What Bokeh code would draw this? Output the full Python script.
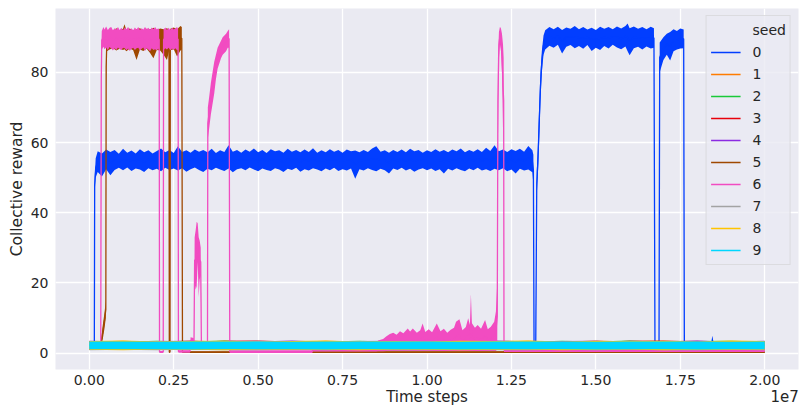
from bokeh.plotting import figure
from bokeh.models import (Range1d, FixedTicker, Legend, LegendItem, LinearAxis,
                          ColumnDataSource, CustomJSTickFormatter)
from bokeh.core.properties import value
from bokeh.embed import file_html
from bokeh.resources import INLINE

# ---------------- data (time in millions of steps, reward) ----------------
seed_names = ["0", "1", "2", "3", "4", "5", "6", "7", "8", "9"]
seed_colors = ["#023eff", "#ff7c00", "#1ac938", "#e8000b", "#8b2be2",
               "#9f4800", "#f14cc1", "#a3a3a3", "#ffc400", "#00d7ff"]

# seed 0: (t [M steps], low edge, high edge) of the noisy trace
seed0 = [
    (0.0, 1.1, 3.2), (0.15, 1.1, 3.2), (0.16, 46.0, 50.0), (0.19, 50.0, 55.5),
    (0.25, 51.6, 57.5), (0.375, 50.3, 56.9), (0.5, 52.4, 58.0), (0.625, 50.7, 57.3),
    (0.75, 52.2, 57.9), (0.875, 52.8, 56.8), (1.0, 52.1, 58.2), (1.125, 52.9, 57.1),
    (1.25, 51.9, 57.7), (1.375, 52.6, 56.9), (1.5, 52.3, 58.1), (1.625, 51.6, 57.2),
    (1.75, 52.7, 57.8), (1.875, 52.1, 56.9), (2.0, 52.5, 57.6), (2.125, 51.8, 58.3),
    (2.25, 52.8, 57.2), (2.375, 52.2, 57.9), (2.5, 52.6, 57.0), (2.625, 52.0, 58.9),
    (2.75, 52.7, 57.3), (2.875, 51.7, 57.8), (3.0, 52.4, 57.1), (3.125, 52.9, 58.0),
    (3.25, 52.2, 57.4), (3.375, 51.6, 57.9), (3.5, 52.5, 57.2), (3.625, 52.1, 58.2),
    (3.75, 52.8, 57.0), (3.875, 52.3, 57.8), (4.0, 51.9, 57.3), (4.125, 52.6, 59.2),
    (4.25, 51.5, 57.4), (4.375, 52.4, 57.9), (4.5, 52.7, 57.1), (4.625, 52.1, 58.0),
    (4.75, 52.9, 57.4), (4.875, 52.3, 58.3), (5.0, 51.8, 57.2), (5.125, 52.6, 57.9),
    (5.25, 52.2, 57.0), (5.375, 51.9, 58.1), (5.5, 52.7, 57.5), (5.625, 52.3, 57.8),
    (5.75, 51.6, 57.1), (5.875, 52.5, 58.2), (6.0, 52.2, 57.4), (6.125, 52.8, 57.9),
    (6.25, 51.7, 57.2), (6.375, 52.4, 58.0), (6.5, 52.0, 57.3), (6.625, 52.7, 58.4),
    (6.75, 52.3, 57.1), (6.875, 51.8, 57.8), (7.0, 52.6, 57.2), (7.125, 52.1, 58.1),
    (7.25, 52.8, 57.4), (7.375, 51.9, 57.9), (7.5, 52.4, 57.1), (7.625, 52.0, 58.0),
    (7.75, 52.6, 57.5), (7.875, 49.7, 57.7), (8.0, 52.4, 57.2), (8.125, 52.0, 57.9),
    (8.25, 52.7, 57.3), (8.375, 52.2, 58.3), (8.5, 51.8, 58.9), (8.625, 52.5, 57.4),
    (8.75, 52.1, 57.8), (8.875, 51.2, 57.1), (9.0, 52.6, 57.9), (9.125, 52.2, 57.3),
    (9.25, 52.8, 58.0), (9.375, 52.0, 57.2), (9.5, 52.5, 58.2), (9.625, 51.7, 57.5),
    (9.75, 52.3, 57.9), (9.875, 52.7, 57.1), (10.0, 52.1, 57.8), (10.125, 52.6, 57.3),
    (10.25, 51.9, 58.1), (10.375, 52.4, 57.4), (10.5, 51.2, 57.9), (10.625, 52.5, 57.2),
    (10.75, 52.0, 58.0), (10.875, 52.7, 57.5), (11.0, 52.2, 58.3), (11.125, 51.8, 57.2),
    (11.25, 52.6, 57.9), (11.375, 52.1, 57.4), (11.5, 52.8, 58.1), (11.625, 52.0, 57.3),
    (11.75, 52.4, 58.5), (11.875, 51.9, 57.6), (12.0, 52.5, 59.2), (12.125, 52.1, 57.5),
    (12.25, 52.7, 58.0), (12.375, 51.8, 57.3), (12.5, 52.3, 58.1), (12.625, 51.2, 57.6),
    (12.75, 52.5, 58.2), (12.875, 52.0, 57.4), (13.0, 52.3, 59.0), (13.12, 51.5, 57.8),
    (13.15, 48.0, 56.5), (13.17, 1.2, 3.2), (13.22, 1.2, 3.2), (13.25, 45.0, 52.0),
    (13.28, 50.0, 58.0), (13.32, 60.0, 70.0), (13.36, 72.0, 80.0), (13.4, 80.0, 86.0),
    (13.45, 85.0, 90.5), (13.5, 86.5, 92.0), (13.625, 87.6, 92.9), (13.75, 87.0, 92.3),
    (13.875, 87.9, 93.0), (14.0, 85.4, 92.1), (14.125, 87.3, 92.8), (14.25, 87.8, 92.4),
    (14.375, 86.9, 93.2), (14.5, 87.5, 92.3), (14.625, 86.7, 92.9), (14.75, 87.8, 92.2),
    (14.875, 86.1, 92.7), (15.0, 87.0, 92.1), (15.125, 86.4, 93.0), (15.25, 87.5, 92.4),
    (15.375, 86.8, 92.9), (15.5, 87.9, 92.3), (15.625, 87.1, 93.1), (15.75, 86.6, 92.5),
    (15.875, 87.4, 93.2), (15.94, 86.0, 93.9), (16.0, 84.9, 92.6), (16.125, 86.9, 93.1),
    (16.25, 87.3, 92.4), (16.375, 86.5, 92.9), (16.5, 87.4, 92.3), (16.625, 86.8, 93.0),
    (16.72, 87.0, 92.6), (16.75, 1.1, 3.2), (16.87, 1.1, 3.2), (16.89, 80.0, 88.5),
    (17.0, 83.5, 90.0), (17.1, 85.0, 91.0), (17.2, 83.4, 91.5), (17.3, 86.0, 92.3),
    (17.4, 86.5, 91.8), (17.5, 86.8, 92.5), (17.6, 86.9, 92.2), (17.62, 1.1, 3.2),
    (18.42, 1.1, 3.3), (18.45, 1.2, 4.9), (18.48, 1.1, 3.3), (20.0, 1.1, 3.3),
]

seed5 = [
    (0.0, 1.1, 3.2), (0.34, 1.2, 3.3), (0.36, 2.5, 4.5), (0.40, 4.0, 8.0),
    (0.45, 7.0, 11.5), (0.49, 10.0, 14.8), (0.50, 75.0, 88.0), (0.52, 86.0, 91.5),
    (0.6, 86.5, 92.3), (0.7, 86.9, 91.8), (0.8, 86.2, 92.6), (0.9, 86.7, 92.0),
    (1.0, 86.4, 92.4), (1.04, 86.6, 93.7), (1.1, 86.0, 92.1), (1.2, 86.8, 92.5),
    (1.3, 86.3, 91.9), (1.4, 83.5, 92.3), (1.5, 86.5, 92.6), (1.6, 86.1, 92.0),
    (1.7, 86.7, 92.4), (1.8, 85.5, 92.2), (1.9, 84.0, 92.7), (2.0, 86.4, 92.1),
    (2.1, 86.2, 92.5), (2.2, 85.0, 92.3), (2.3, 83.5, 92.6), (2.36, 86.0, 92.2),
    (2.37, 0.0, 0.5), (2.39, 0.0, 0.5), (2.40, 86.3, 92.4), (2.5, 86.6, 92.8),
    (2.6, 84.5, 92.3), (2.7, 86.2, 93.2), (2.74, 86.5, 92.9), (2.76, 0.0, 0.5),
    (20.0, 0.0, 0.5),
]

seed6 = [
    (0.0, 1.1, 3.2), (0.34, 1.2, 3.3), (0.355, 70.0, 86.0), (0.37, 86.5, 91.8),
    (0.42, 87.3, 92.9), (0.45, 86.6, 92.2), (0.5, 87.1, 93.1), (0.55, 86.3, 92.1),
    (0.6, 87.2, 92.7), (0.65, 86.8, 92.9), (0.7, 86.2, 92.0), (0.75, 86.9, 92.6),
    (0.8, 86.4, 92.2), (0.85, 87.1, 92.9), (0.9, 86.6, 92.1), (0.95, 86.4, 92.7),
    (1.0, 87.0, 92.0), (1.05, 86.9, 92.8), (1.1, 86.3, 92.3), (1.15, 86.8, 92.9),
    (1.2, 86.1, 92.1), (1.25, 86.7, 92.6), (1.3, 87.0, 92.0), (1.35, 86.4, 92.8),
    (1.4, 86.9, 92.2), (1.45, 87.0, 92.9), (1.5, 86.2, 92.1), (1.55, 86.7, 92.6),
    (1.6, 87.1, 92.2), (1.65, 86.1, 92.9), (1.7, 86.9, 92.3), (1.75, 86.5, 92.7),
    (1.8, 86.0, 92.1), (1.85, 86.9, 92.8), (1.9, 86.4, 92.3), (1.95, 86.6, 92.9),
    (2.0, 86.2, 92.2), (2.04, 86.8, 92.6), (2.07, 86.4, 92.2), (2.08, 0.0, 0.6),
    (2.19, 0.0, 0.6), (2.20, 86.4, 92.2), (2.25, 86.9, 92.8), (2.3, 86.5, 92.1),
    (2.35, 87.0, 92.7), (2.4, 86.3, 92.0), (2.45, 86.8, 92.8), (2.5, 86.4, 92.2),
    (2.55, 86.9, 92.6), (2.6, 86.3, 92.9), (2.63, 86.5, 92.3), (2.64, 0.1, 0.8),
    (2.98, 0.1, 0.8), (3.0, 2.6, 4.5), (3.09, 2.6, 4.3), (3.10, 1.2, 3.0),
    (3.12, 20.0, 33.0), (3.15, 18.0, 35.0), (3.18, 19.0, 37.4), (3.21, 26.0, 37.0),
    (3.24, 16.0, 33.0), (3.27, 21.0, 32.0), (3.30, 22.0, 30.0), (3.32, 1.2, 2.8),
    (3.50, 1.2, 2.8), (3.51, 61.0, 70.0), (3.55, 64.0, 73.0), (3.60, 68.0, 77.0),
    (3.65, 71.0, 80.0), (3.70, 74.0, 83.0), (3.75, 78.0, 85.0), (3.80, 81.0, 87.0),
    (3.85, 82.5, 88.0), (3.90, 84.0, 89.0), (3.95, 85.0, 90.0), (4.00, 85.5, 90.5),
    (4.05, 86.0, 91.0), (4.10, 87.0, 91.8), (4.14, 87.0, 92.3), (4.16, 0.0, 0.8),
    (6.6, 0.0, 0.8), (6.62, 0.45, 1.3), (8.5, 0.45, 1.3), (8.55, 0.5, 3.6),
    (8.7, 0.5, 4.0), (8.8, 0.6, 4.8), (8.9, 0.6, 5.4), (9.0, 0.6, 5.8),
    (9.1, 0.6, 5.2), (9.2, 0.6, 6.2), (9.3, 0.6, 5.6), (9.43, 0.6, 7.0),
    (9.5, 0.6, 6.1), (9.58, 0.6, 7.0), (9.7, 0.6, 5.8), (9.8, 0.6, 6.5),
    (9.87, 0.6, 8.4), (9.95, 0.6, 6.0), (10.05, 0.6, 6.8), (10.15, 0.6, 5.9),
    (10.29, 0.6, 8.4), (10.4, 0.6, 6.2), (10.5, 0.6, 6.9), (10.6, 0.6, 5.8),
    (10.7, 0.6, 6.6), (10.8, 0.6, 7.2), (10.86, 0.6, 8.9), (10.96, 0.6, 9.6),
    (11.05, 0.6, 6.5), (11.15, 0.6, 7.4), (11.22, 0.6, 9.9), (11.27, 0.6, 8.0),
    (11.30, 0.6, 16.8), (11.33, 0.6, 8.5), (11.42, 0.6, 7.2), (11.5, 0.6, 8.0),
    (11.6, 0.6, 6.9), (11.72, 0.6, 9.4), (11.8, 0.6, 6.8), (11.89, 0.6, 7.5),
    (11.99, 0.6, 8.9), (12.04, 0.6, 11.8), (12.08, 1.0, 20.0), (12.10, 60.0, 84.0),
    (12.13, 84.0, 91.5), (12.16, 88.0, 93.0), (12.19, 86.0, 92.5), (12.22, 80.0, 91.0),
    (12.25, 64.0, 88.0), (12.27, 60.0, 84.0), (12.28, 0.3, 1.3), (20.0, 0.3, 1.3),
]

# seeds that stay near the floor: shared knot times and low/high edges
base_t = [0, 1, 2, 3, 4, 5, 6, 7, 8, 9, 10, 11, 12, 13, 14, 15, 16, 17, 18, 19, 20]
lo1 = [1.0, 0.9, 1.1, 1.0, 0.9, 1.1, 1.0, 0.9, 1.0, 1.1, 0.9, 1.0, 1.1, 0.9, 1.0, 1.0, 0.9, 1.1, 1.0, 0.9, 1.0]
hi1 = [3.3, 3.5, 3.2, 3.6, 3.3, 3.4, 3.2, 3.5, 3.3, 3.6, 3.2, 3.4, 3.3, 3.5, 3.2, 3.6, 3.3, 3.4, 3.5, 3.3, 3.4]
lo2 = [0.9, 1.0, 1.0, 1.1, 0.9, 1.0, 1.1, 0.9, 1.0, 1.0, 1.1, 0.9, 1.0, 1.0, 1.1, 0.9, 1.0, 1.1, 0.9, 1.0, 1.1]
hi2 = [3.4, 3.2, 3.5, 3.3, 3.6, 3.2, 3.4, 3.3, 3.5, 3.2, 3.6, 3.3, 3.4, 3.2, 3.5, 3.3, 3.6, 3.2, 3.4, 3.5, 3.3]
lo3 = [1.1, 1.0, 0.9, 1.0, 1.1, 0.9, 1.0, 1.0, 1.1, 0.9, 1.0, 1.1, 0.9, 1.0, 1.0, 1.1, 0.9, 1.0, 1.1, 1.0, 0.9]
hi3 = [3.2, 3.4, 3.3, 3.2, 3.5, 3.6, 3.3, 3.4, 3.2, 3.3, 3.5, 3.6, 3.2, 3.4, 3.3, 3.2, 3.5, 3.6, 3.3, 3.4, 3.2]
lo4 = [1.0, 1.1, 1.0, 0.9, 1.0, 1.0, 0.9, 1.1, 1.0, 0.9, 1.1, 1.0, 1.0, 0.9, 1.1, 1.0, 1.0, 0.9, 1.0, 1.1, 1.0]
hi4 = [3.5, 3.3, 3.4, 3.5, 3.2, 3.3, 3.6, 3.2, 3.4, 3.5, 3.3, 3.2, 3.6, 3.3, 3.4, 3.5, 3.2, 3.3, 3.6, 3.2, 3.5]
lo7 = [0.8, 0.9, 0.8, 0.9, 0.8, 0.8, 0.9, 0.8, 0.9, 0.8, 0.8, 0.9, 0.8, 0.8, 0.9, 0.8, 0.9, 0.8, 0.8, 0.9, 0.8]
hi7 = [3.3, 3.2, 3.4, 3.3, 3.3, 3.5, 3.2, 3.3, 3.4, 3.3, 3.2, 3.4, 3.3, 3.3, 3.2, 3.4, 3.3, 3.3, 3.2, 3.4, 3.3]
lo8 = [0.9, 0.8, 1.0, 0.9, 0.8, 1.0, 0.9, 0.9, 0.8, 1.0, 0.9, 0.8, 0.9, 1.0, 0.8, 0.9, 1.0, 0.8, 0.9, 0.9, 1.0]
hi8 = [3.4, 3.6, 3.3, 3.4, 3.5, 3.2, 3.4, 3.6, 3.3, 3.4, 3.3, 3.5, 3.4, 3.6, 3.3, 3.4, 3.4, 3.5, 3.3, 3.6, 3.4]
lo9 = [1.1, 1.05, 1.1, 1.0, 1.05, 1.1, 1.05, 1.0, 1.1, 1.05, 1.1, 1.0, 1.05, 1.1, 1.05, 1.0, 1.1, 1.05, 1.0, 1.1, 1.05]
hi9 = [3.25, 3.3, 3.2, 3.3, 3.25, 3.3, 3.2, 3.3, 3.25, 3.3, 3.3, 3.2, 3.3, 3.25, 3.3, 3.2, 3.3, 3.25, 3.3, 3.2, 3.3]

x_tick_values = [0.0, 0.25, 0.5, 0.75, 1.0, 1.25, 1.5, 1.75, 2.0]   # x 1e7
y_tick_values = [0, 20, 40, 60, 80]
x_title = "Time steps"
x_offset_text = "1e7"

# ---------------- assemble series ----------------
def from_rows(rows):
    return [r[0] for r in rows], [r[1] for r in rows], [r[2] for r in rows]

series = [
    from_rows(seed0),
    (base_t, lo1, hi1),
    (base_t, lo2, hi2),
    (base_t, lo3, hi3),
    (base_t, lo4, hi4),
    from_rows(seed5),
    from_rows(seed6),
    (base_t, lo7, hi7),
    (base_t, lo8, hi8),
    (base_t, lo9, hi9),
]

FONT = "DejaVu Sans"
TXT = "#262626"

p = figure(frame_width=743, frame_height=361,
           x_range=Range1d(-1.0e6, 2.1e7), y_range=Range1d(-4.7, 98.2),
           output_backend="svg", toolbar_location=None,
           min_border_left=55, min_border_right=1, min_border_top=8,
           min_border_bottom=0,
           background_fill_color="#eaeaf2", border_fill_color="white")
p.outline_line_color = None

for (t, lo, hi), col in zip(series, seed_colors):
    src = ColumnDataSource(dict(
        t=[v * 1e6 for v in t], lo=lo, hi=hi,
        mid=[(a + b) / 2 for a, b in zip(lo, hi)]))
    p.varea(x="t", y1="lo", y2="hi", source=src, fill_color=col, fill_alpha=1.0)
    p.line(x="t", y="mid", source=src, line_color=col, line_width=1.3)

# axes
p.xaxis.ticker = FixedTicker(ticks=[v * 1e7 for v in x_tick_values])
p.xgrid.ticker = FixedTicker(ticks=[v * 1e7 for v in x_tick_values])
p.xaxis.formatter = CustomJSTickFormatter(code="return (tick / 1e7).toFixed(2);")
p.yaxis.ticker = FixedTicker(ticks=y_tick_values)
p.ygrid.ticker = FixedTicker(ticks=y_tick_values)
p.yaxis.axis_label = "Collective reward"

def style_axis(ax):
    ax.axis_line_color = None
    ax.major_tick_line_color = None
    ax.minor_tick_line_color = None
    ax.major_tick_out = 0
    ax.major_tick_in = 0
    ax.minor_tick_out = 0
    ax.minor_tick_in = 0
    ax.major_label_text_font = FONT
    ax.major_label_text_font_size = "14px"
    ax.major_label_text_color = TXT
    ax.axis_label_text_font = FONT
    ax.axis_label_text_font_size = "15.5px"
    ax.axis_label_text_font_style = "normal"
    ax.axis_label_text_color = TXT

style_axis(p.xaxis[0])
style_axis(p.yaxis[0])
p.xaxis.major_label_standoff = 5
p.yaxis.major_label_standoff = 7
p.yaxis.axis_label_standoff = 2

# second row under the tick labels: axis title (centred) and offset text (right)
title_axis = LinearAxis(
    ticker=FixedTicker(ticks=[1.0e7, 2.059e7]),
    formatter=CustomJSTickFormatter(
        args=dict(a=x_title, b=x_offset_text),
        code="return tick < 1.5e7 ? a : b;"))
style_axis(title_axis)
title_axis.major_label_text_font_size = "15px"
title_axis.major_label_standoff = 0
p.add_layout(title_axis, "below")

for g in (p.xgrid[0], p.ygrid[0]):
    g.grid_line_color = "white"
    g.grid_line_width = 1.3

# legend
title_r = p.line(x=[-9e7, -8.9e7], y=[0, 0], line_alpha=0)
items = [LegendItem(label=value("seed"), renderers=[title_r])]
for name, col in zip(seed_names, seed_colors):
    r = p.line(x=[-9e7, -8.9e7], y=[0, 0], line_color=col, line_width=1.5)
    items.append(LegendItem(label=value(name), renderers=[r]))
legend = Legend(items=items, location="top_right", margin=7,
                glyph_width=30, glyph_height=20, label_height=20, spacing=2,
                padding=4, label_standoff=12,
                label_text_font=FONT, label_text_font_size="14px",
                label_text_color=TXT,
                background_fill_color="#eaeaf2", background_fill_alpha=0.8,
                border_line_color="#cccccc", border_line_width=1)
p.add_layout(legend)

open("out.html", "w").write(file_html(p, INLINE))
